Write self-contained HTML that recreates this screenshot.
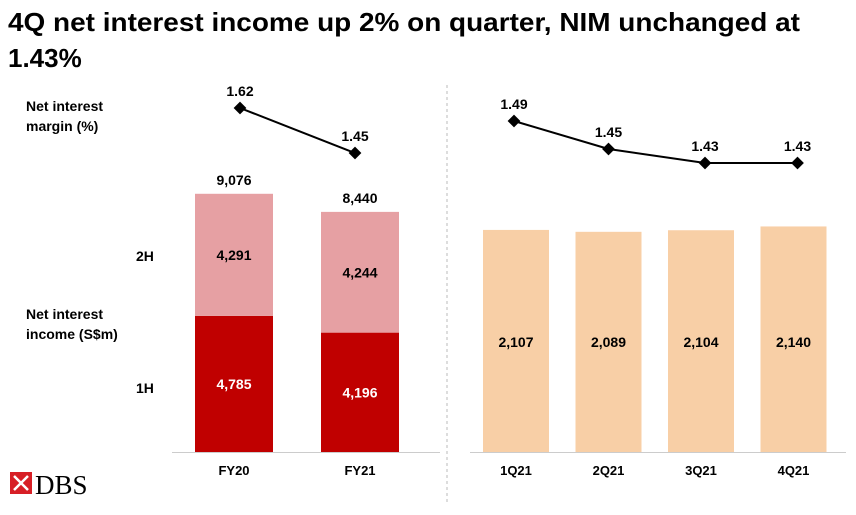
<!DOCTYPE html>
<html><head><meta charset="utf-8"><style>
body{margin:0;background:#fff;font-family:"Liberation Sans",Arial,sans-serif}
svg text{font-family:"Liberation Sans",Arial,sans-serif;font-weight:bold}
</style></head><body>
<svg width="856" height="510">
<text x="8" y="31" font-size="26" textLength="792" lengthAdjust="spacingAndGlyphs">4Q net interest income up 2% on quarter, NIM unchanged at</text>
<text x="8" y="67" font-size="26">1.43%</text>
<text x="26" y="111" font-size="14">Net interest</text>
<text x="26" y="131" font-size="14">margin (%)</text>
<text x="26" y="319" font-size="14">Net interest</text>
<text x="26" y="339" font-size="14">income (S$m)</text>
<text x="136" y="261" font-size="14">2H</text>
<text x="136" y="393" font-size="14">1H</text>
<line x1="447" y1="85" x2="447" y2="505" stroke="#bbb" stroke-dasharray="3,3"/>
<line x1="172" y1="452.5" x2="440" y2="452.5" stroke="#ccc"/>
<line x1="470" y1="452.5" x2="846" y2="452.5" stroke="#ccc"/>
<g id="g"></g>
<g>
<rect x="10" y="472" width="22" height="22" fill="#d71f26"/>
<path d="M14 476 L21 483 L28 476 M14 490 L21 483 L28 490" stroke="#fff" stroke-width="2.5" fill="none"/>
<text x="35" y="494" font-size="27" font-family="Liberation Serif" style="font-family:'Liberation Serif',serif;font-weight:normal">DBS</text>
</g>
</svg>
<script>
const yearCats=["FY20","FY21"];
const h1=[4785,4196];
const h2=[4291,4244];
const yearNim=[1.62,1.45];
const qCats=["1Q21","2Q21","3Q21","4Q21"];
const qNii=[2107,2089,2104,2140];
const qNim=[1.49,1.45,1.43,1.43];
const NS="http://www.w3.org/2000/svg",g=document.getElementById('g');
function mk(t,a,txt){const e=document.createElementNS(NS,t);for(const k in a)e.setAttribute(k,a[k]);if(txt!=null)e.textContent=txt;g.appendChild(e);return e;}
const base=452;
const yY=v=>base-v*0.02845;
const yQ=v=>base-v*0.1054;
const xY=i=>234+i*126;
const xQ=i=>516+i*92.5;
const nimY=v=>108-(v-1.62)*265;
const nimQ=v=>121-(v-1.49)*700;
const fmt=v=>v.toLocaleString('en-US');
yearCats.forEach((c,i)=>{
 const x=xY(i),w=78,t1=yY(h1[i]),t2=yY(h1[i]+h2[i]);
 let r=mk('rect',{x:x-w/2,y:t1,width:w,height:base-t1,fill:'#c00000'});
 
 
 r=mk('rect',{x:x-w/2,y:t2,width:w,height:t1-t2,fill:'#e6a0a3'});
 
 
 mk('text',{x:x,y:(t1+base)/2+5,'font-size':14,fill:'#fff','text-anchor':'middle'},fmt(h1[i]));
 mk('text',{x:x,y:(t1+t2)/2+5,'font-size':14,'text-anchor':'middle'},fmt(h2[i]));
 mk('text',{x:x,y:t2-9,'font-size':14,'text-anchor':'middle'},fmt(h1[i]+h2[i]));
 mk('text',{x:x,y:475,'font-size':13,'text-anchor':'middle'},c);
});
qCats.forEach((c,i)=>{
 const x=xQ(i),w=66,t=yQ(qNii[i]);
 const r=mk('rect',{x:x-w/2,y:t,width:w,height:base-t,fill:'#f8cfa6'});
 
 
 mk('text',{x:x,y:347,'font-size':14,'text-anchor':'middle'},fmt(qNii[i]));
 mk('text',{x:x,y:475,'font-size':13,'text-anchor':'middle'},c);
});
function line(xs,ys,vals,nm){
 const pts=vals.map((v,i)=>[xs(i)+(nm=='nim-year'?(i?-5:6):(i>1?4:(i==0?-2:0))),ys(v)]);
 const p=mk('polyline',{points:pts.map(p=>p.join(',')).join(' '),fill:'none',stroke:'#000','stroke-width':2});
 
 
 pts.forEach((q,i)=>{
  const d=mk('rect',{x:q[0]-4.5,y:q[1]-4.5,width:9,height:9,fill:'#000',transform:`rotate(45 ${q[0]} ${q[1]})`});
  
  
  mk('text',{x:q[0],y:q[1]-12,'font-size':14,'text-anchor':'middle'},vals[i].toFixed(2));
 });
}
line(xY,nimY,yearNim,'nim-year');
line(xQ,nimQ,qNim,'nim-q');
</script>
</body></html>
